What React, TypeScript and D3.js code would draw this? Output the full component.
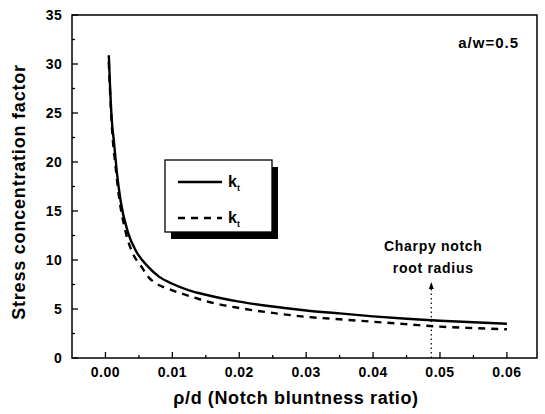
import React, { useRef, useEffect } from "react";
import * as d3 from "d3";

// notch bluntness ratio (rho/d) and stress concentration factor
const solidX = [0.0005, 0.0007, 0.001, 0.00125, 0.0017, 0.00225, 0.0034, 0.0045, 0.0064, 0.008, 0.0099, 0.0125, 0.015, 0.02, 0.025, 0.03, 0.035, 0.04, 0.045, 0.05, 0.055, 0.06];
const solidY = [30.9, 27.5, 23.8, 22.2, 19, 16.1, 12.75, 11, 9.3, 8.3, 7.6, 6.9, 6.45, 5.75, 5.25, 4.85, 4.55, 4.25, 4.0, 3.8, 3.65, 3.5];

const dashX = [0.0005, 0.0007, 0.001, 0.0015, 0.002, 0.003, 0.004, 0.0054, 0.0065, 0.0076, 0.01, 0.0129, 0.015, 0.02, 0.025, 0.03, 0.035, 0.04, 0.045, 0.05, 0.055, 0.06];
const dashY = [30.2, 27, 23.2, 19.6, 16.6, 12.9, 10.8, 9.3, 8.2, 7.6, 6.9, 6.25, 5.8, 5.1, 4.6, 4.2, 3.95, 3.7, 3.45, 3.2, 3.05, 2.93];

const xTicks = [0, 0.01, 0.02, 0.03, 0.04, 0.05, 0.06];
const xMinor = [0.005, 0.015, 0.025, 0.035, 0.045, 0.055];
const yTicks = [0, 5, 10, 15, 20, 25, 30, 35];
const yMinor = [2.5, 7.5, 12.5, 17.5, 22.5, 27.5, 32.5];

const charpyX = 0.0487;

const FONT = "'Liberation Sans', Arial, sans-serif";

const App = () => {
  const ref = useRef<SVGSVGElement>(null);

  useEffect(() => {
    const svg = d3.select(ref.current);
    svg.selectAll("*").remove();

    const left = 72, right = 537, top = 15, bottom = 358;
    const x = d3.scaleLinear().domain([-0.005, 0.0645]).range([left, right]);
    const y = d3.scaleLinear().domain([0, 35]).range([bottom, top]);

    svg.append("rect").attr("width", 545).attr("height", 414).attr("fill", "#fff");

    // frame
    svg.append("rect")
      .attr("x", left).attr("y", top)
      .attr("width", right - left).attr("height", bottom - top)
      .attr("fill", "none").attr("stroke", "#000").attr("stroke-width", 1.5);

    // ticks point inward
    const g = svg.append("g").attr("stroke", "#000").attr("stroke-width", 1.3);
    xTicks.forEach((t) => {
      g.append("line").attr("x1", x(t)).attr("x2", x(t)).attr("y1", bottom).attr("y2", bottom - 6);
    });
    xMinor.forEach((t) => {
      g.append("line").attr("x1", x(t)).attr("x2", x(t)).attr("y1", bottom).attr("y2", bottom - 3);
    });
    yTicks.forEach((t) => {
      g.append("line").attr("x1", left).attr("x2", left + 6).attr("y1", y(t)).attr("y2", y(t));
    });
    yMinor.forEach((t) => {
      g.append("line").attr("x1", left).attr("x2", left + 3).attr("y1", y(t)).attr("y2", y(t));
    });

    // tick labels
    svg.append("g").selectAll("text").data(xTicks).enter().append("text")
      .attr("x", (d) => x(d)).attr("y", bottom + 19)
      .attr("text-anchor", "middle")
      .attr("font-family", FONT).attr("font-weight", "bold").attr("font-size", 14)
      .attr("letter-spacing", 0.5)
      .text((d) => d3.format(".2f")(d));

    svg.append("g").selectAll("text").data(yTicks).enter().append("text")
      .attr("x", left - 10).attr("y", (d) => y(d) + 5)
      .attr("text-anchor", "end")
      .attr("font-family", FONT).attr("font-weight", "bold").attr("font-size", 14)
      .attr("letter-spacing", 0.3)
      .text((d) => d);

    // axis titles
    svg.append("text")
      .attr("x", 296).attr("y", 404)
      .attr("text-anchor", "middle")
      .attr("font-family", FONT).attr("font-weight", "bold").attr("font-size", 18)
      .attr("letter-spacing", 0.6)
      .text("ρ/d (Notch bluntness ratio)");

    svg.append("text")
      .attr("transform", "translate(25,192) rotate(-90)")
      .attr("text-anchor", "middle")
      .attr("font-family", FONT).attr("font-weight", "bold").attr("font-size", 18)
      .attr("letter-spacing", 0.8)
      .text("Stress concentration factor");

    // curves
    const line = d3.line<[number, number]>()
      .x((d) => x(d[0])).y((d) => y(d[1]))
      .curve(d3.curveMonotoneX);

    svg.append("path")
      .datum(dashX.map((v, i) => [v, dashY[i]] as [number, number]))
      .attr("d", line)
      .attr("fill", "none").attr("stroke", "#000").attr("stroke-width", 2.4)
      .attr("stroke-dasharray", "7,6");

    svg.append("path")
      .datum(solidX.map((v, i) => [v, solidY[i]] as [number, number]))
      .attr("d", line)
      .attr("fill", "none").attr("stroke", "#000").attr("stroke-width", 2.4);

    // Charpy notch marker
    const cx = x(charpyX);
    svg.append("line")
      .attr("x1", cx).attr("x2", cx).attr("y1", bottom).attr("y2", 288)
      .attr("stroke", "#000").attr("stroke-width", 1.2).attr("stroke-dasharray", "1.5,3");
    svg.append("path")
      .attr("d", `M${cx - 2.5},${289} L${cx},${282} L${cx + 2.5},${289} Z`)
      .attr("fill", "#000");
    svg.append("text")
      .attr("x", cx + 2).attr("y", 251)
      .attr("text-anchor", "middle")
      .attr("font-family", FONT).attr("font-weight", "bold").attr("font-size", 14)
      .attr("letter-spacing", 0.7)
      .text("Charpy notch");
    svg.append("text")
      .attr("x", cx + 2).attr("y", 273)
      .attr("text-anchor", "middle")
      .attr("font-family", FONT).attr("font-weight", "bold").attr("font-size", 14)
      .attr("letter-spacing", 0.7)
      .text("root radius");

    svg.append("text")
      .attr("x", 519).attr("y", 48)
      .attr("text-anchor", "end")
      .attr("font-family", FONT).attr("font-weight", "bold").attr("font-size", 15)
      .attr("letter-spacing", 1)
      .text("a/w=0.5");

    // legend with drop shadow
    const lx = 165, ly = 160, lw = 107, lh = 72;
    svg.append("rect").attr("x", lx + 6).attr("y", ly + 7).attr("width", lw).attr("height", lh).attr("fill", "#000");
    svg.append("rect").attr("x", lx).attr("y", ly).attr("width", lw).attr("height", lh)
      .attr("fill", "#fff").attr("stroke", "#000").attr("stroke-width", 1.3);

    const items = [
      { yy: 182, dash: null },
      { yy: 218, dash: "7,6" },
    ];
    items.forEach((it) => {
      svg.append("line")
        .attr("x1", 178).attr("x2", 222).attr("y1", it.yy).attr("y2", it.yy)
        .attr("stroke", "#000").attr("stroke-width", 2.4)
        .attr("stroke-dasharray", it.dash);
      const t = svg.append("text")
        .attr("x", 228).attr("y", it.yy + 5)
        .attr("font-family", FONT).attr("font-weight", "bold").attr("font-size", 16);
      t.append("tspan").text("k");
      t.append("tspan").attr("font-size", 9).attr("dy", 4).text("t");
    });
  }, []);

  return (
    <svg
      ref={ref}
      width={545}
      height={414}
      style={{ position: "absolute", left: 0, top: 0, display: "block" }}
    />
  );
};

export default App;
